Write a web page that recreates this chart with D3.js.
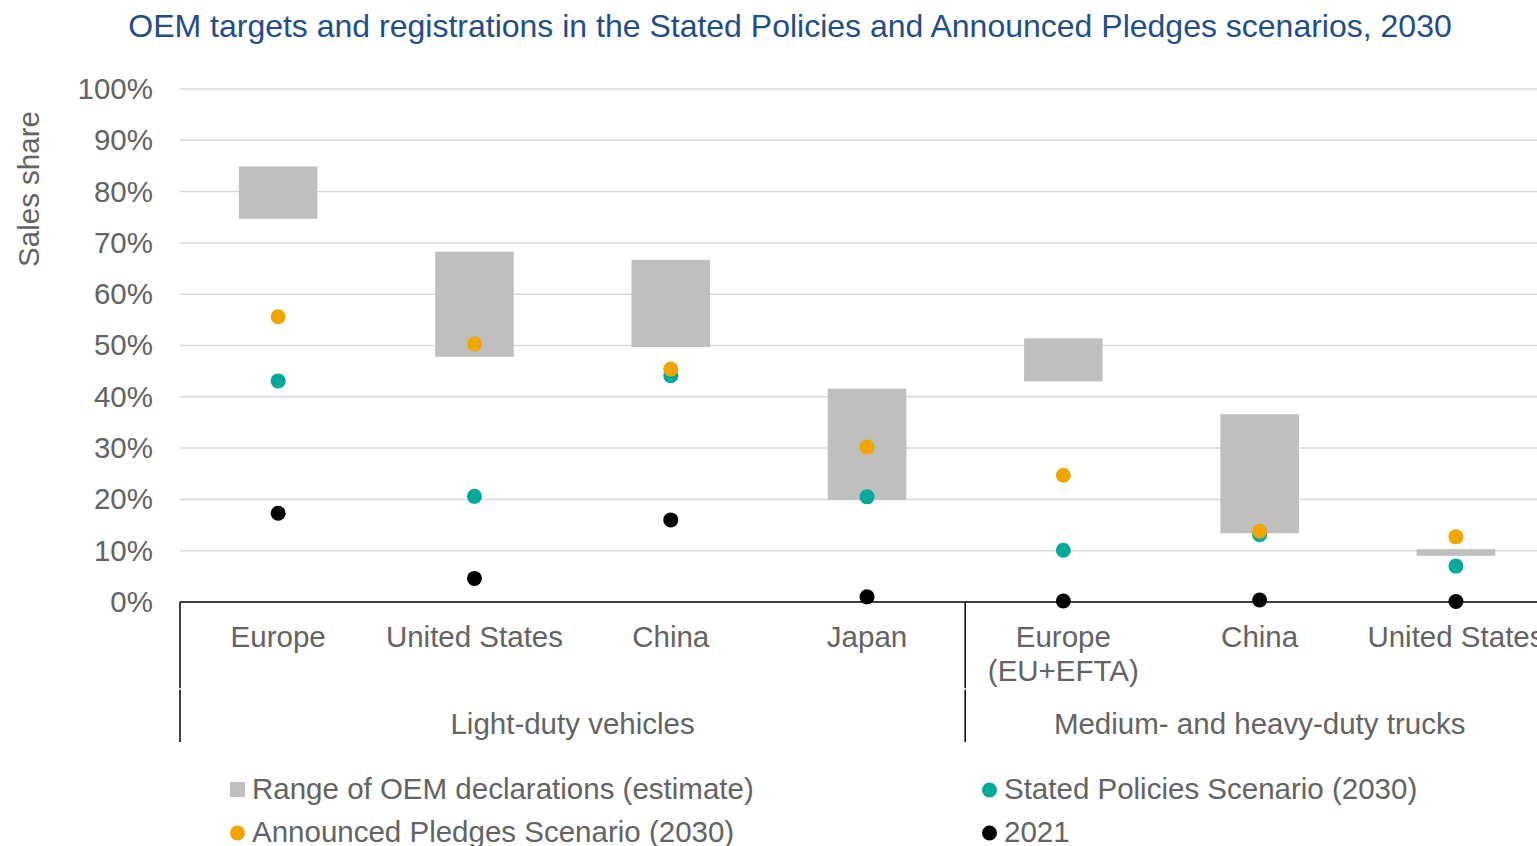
<!DOCTYPE html>
<html>
<head>
<meta charset="utf-8">
<script src="https://cdn.jsdelivr.net/npm/d3@7"></script>
<style>
  html, body { margin: 0; padding: 0; background: #fff; overflow: hidden; }
  svg { display: block; font-family: "Liberation Sans", Arial, sans-serif; }
</style>
</head>
<body>
<svg id="chart" width="1537" height="846"></svg>
<script>
// Categories, grouped by vehicle segment
const categories = ["Europe", "United States", "China", "Japan", "Europe\n(EU+EFTA)", "China ", "United States "];
const groups = [
  { name: "Light-duty vehicles", first: 0, last: 3 },
  { name: "Medium- and heavy-duty trucks", first: 4, last: 6 }
];
// Range of OEM declarations (share of sales)
const oemLow  = [0.747, 0.478, 0.497, 0.199, 0.430, 0.134, 0.090];
const oemHigh = [0.849, 0.683, 0.667, 0.416, 0.514, 0.366, 0.103];
// Scenario values for 2030 and the 2021 actuals
const aps2030   = [0.556, 0.503, 0.454, 0.302, 0.247, 0.138, 0.127];
const steps2030 = [0.431, 0.206, 0.441, 0.205, 0.101, 0.131, 0.070];
const actual2021 = [0.173, 0.046, 0.160, 0.010, 0.002, 0.004, 0.001];
const yTicks = [0, 0.1, 0.2, 0.3, 0.4, 0.5, 0.6, 0.7, 0.8, 0.9, 1.0];

const colors = { oem: "#bfbfbf", aps: "#f0a500", steps: "#00aa9b", y2021: "#000000" };
const legendItems = [
  { label: "Range of OEM declarations (estimate)", color: colors.oem, shape: "square" },
  { label: "Stated Policies Scenario (2030)", color: colors.steps, shape: "circle" },
  { label: "Announced Pledges Scenario (2030)", color: colors.aps, shape: "circle" },
  { label: "2021", color: colors.y2021, shape: "circle" }
];

const svg = d3.select("#chart");
const textColor = "#636363";
const fs = 29.5;

const left = 180, bandW = 196.3;
const x = d3.scaleBand().domain(categories).range([left, left + bandW * categories.length]).paddingInner(0.6).paddingOuter(0.3);
const y = d3.scaleLinear().domain([0, 1]).range([602, 89]);
const cx = c => x(c) + x.bandwidth() / 2;

// Title
svg.append("text").attr("x", 790).attr("y", 37).attr("text-anchor", "middle")
  .attr("fill", "#1f4e89").attr("font-size", 32)
  .text("OEM targets and registrations in the Stated Policies and Announced Pledges scenarios, 2030");

// Gridlines and y tick labels
const yAxis = d3.axisLeft(y).tickValues(yTicks).tickFormat(d3.format(".0%")).tickSize(0).tickPadding(27);
const gy = svg.append("g").attr("transform", `translate(${left},0)`).call(yAxis);
gy.select(".domain").remove();
gy.selectAll("text").attr("fill", textColor).attr("font-size", fs).attr("font-family", "Liberation Sans, Arial, sans-serif");
svg.append("g").selectAll("line").data(yTicks.filter(d => d > 0)).join("line")
  .attr("x1", left).attr("x2", 1537).attr("y1", d => y(d)).attr("y2", d => y(d))
  .attr("stroke", "#d9d9d9").attr("stroke-width", 1.5);

// Y axis title
svg.append("text").attr("transform", "translate(39,189) rotate(-90)").attr("text-anchor", "middle")
  .attr("fill", textColor).attr("font-size", fs).text("Sales share");

// OEM declaration ranges
svg.append("g").selectAll("rect").data(categories).join("rect")
  .attr("x", d => x(d)).attr("width", x.bandwidth())
  .attr("y", (d, i) => y(oemHigh[i])).attr("height", (d, i) => y(oemLow[i]) - y(oemHigh[i]))
  .attr("fill", colors.oem);

// Baseline
svg.append("line").attr("x1", left).attr("x2", 1537).attr("y1", y(0)).attr("y2", y(0))
  .attr("stroke", "#000").attr("stroke-width", 1.5);

// Group separators (two tiers: categories, then segment names)
const sepX = [left, left + bandW * 4, left + bandW * 7];
[[y(0), 688], [690, 742]].forEach(([y1, y2]) => {
  svg.append("g").selectAll("line").data(sepX).join("line")
    .attr("x1", d => d).attr("x2", d => d).attr("y1", y1).attr("y2", y2)
    .attr("stroke", "#000").attr("stroke-width", 1.5);
});
svg.append("g").selectAll("line").data(sepX).join("line")
  .attr("x1", d => d).attr("x2", d => d).attr("y1", 688).attr("y2", 690)
  .attr("stroke", "#bbb").attr("stroke-width", 1.5);

// Points
const dots = (vals, color) => svg.append("g").selectAll("circle").data(categories).join("circle")
  .attr("cx", d => cx(d)).attr("cy", (d, i) => y(vals[i])).attr("r", 7.5).attr("fill", color);
dots(actual2021, colors.y2021);
dots(steps2030, colors.steps);
dots(aps2030, colors.aps);

// Category labels
const catG = svg.append("g").attr("fill", textColor).attr("font-size", fs).attr("text-anchor", "middle");
categories.forEach(c => {
  const t = catG.append("text").attr("x", cx(c)).attr("y", 647);
  c.trim().split("\n").forEach((line, k) => {
    t.append("tspan").attr("x", cx(c)).attr("dy", k === 0 ? 0 : 34).text(line);
  });
});

// Group labels
groups.forEach(g => {
  const mid = (left + bandW * g.first + left + bandW * (g.last + 1)) / 2;
  svg.append("text").attr("x", mid).attr("y", 734).attr("text-anchor", "middle")
    .attr("fill", textColor).attr("font-size", fs).text(g.name);
});

// Legend
const legPos = [[230, 789], [982, 789], [230, 832], [982, 832]];
legendItems.forEach((it, i) => {
  const [lx, ly] = legPos[i];
  if (it.shape === "square") {
    svg.append("rect").attr("x", lx).attr("y", ly - 7).attr("width", 15).attr("height", 15).attr("fill", it.color);
  } else {
    svg.append("circle").attr("cx", lx + 7.5).attr("cy", ly + 1).attr("r", 7.5).attr("fill", it.color);
  }
  svg.append("text").attr("x", lx + 22).attr("y", ly + 10).attr("fill", textColor)
    .attr("font-size", fs).text(it.label);
});
</script>
</body>
</html>
